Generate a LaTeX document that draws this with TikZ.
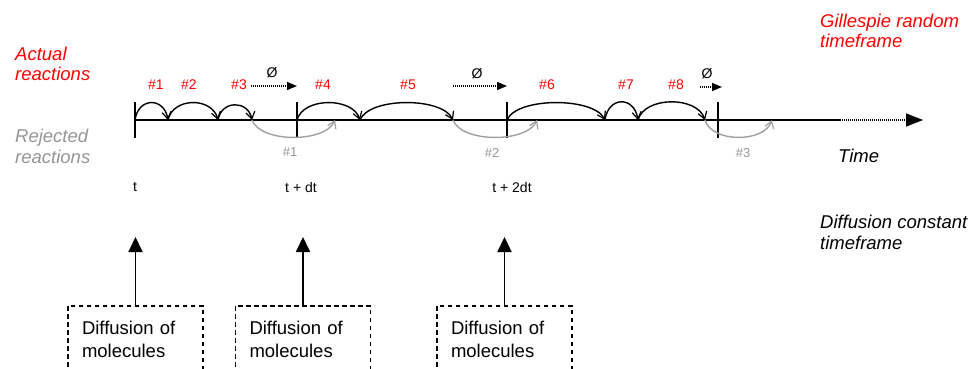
\documentclass[tikz,border=0pt]{standalone}
\usepackage{fontspec}
\setmainfont{Liberation Sans}
\usepackage{tikz}
\usetikzlibrary{arrows.meta,calc,positioning}
\definecolor{actred}{RGB}{255,0,0}
\definecolor{rejgray}{RGB}{150,150,150}
\definecolor{ink}{RGB}{0,0,0}

\tikzset{
  hop/.style={to path={.. controls ($(\tikztostart)!0.1!(\tikztotarget)+(0,#1)$) and ($(\tikztostart)!0.88!(\tikztotarget)+(0,#1)$) .. (\tikztotarget)}},
  hop/.default=-23,
  actarc/.style={line width=1.4pt,color=ink,-{Straight Barb[length=7pt,width=9pt,line width=1.2pt]}},
  rejarc/.style={line width=1.4pt,color=rejgray!90,-{Straight Barb[length=7pt,width=9pt,line width=1.2pt]}},
  sidelabel/.style={anchor=base west,align=left,inner sep=0pt,font=\fontsize{18.5}{20.5}\selectfont\itshape},
  reacnum/.style={color=actred,font=\fontsize{14}{17}\selectfont,inner sep=0pt},
  rejnum/.style={color=rejgray,font=\fontsize{13}{16}\selectfont,inner sep=0pt},
  nulltext/.style={color=ink,font=\fontsize{14}{17}\selectfont,inner sep=0pt},
  nullarrow/.style={line width=1.3pt,dash pattern=on 1pt off 1pt,color=ink,-{Triangle[length=10pt,width=8pt]}},
  steplabel/.style={font=\fontsize{14}{17}\selectfont,inner sep=0pt},
  diffbox/.style={draw,line width=1.5pt,dash pattern=on 4.5pt off 3.5pt,anchor=north,text width=107pt,align=left,inner xsep=14pt,inner ysep=15pt,text depth=62pt,font=\fontsize{18.5}{23}\selectfont},
  uparrow/.style={line width=1.8pt,-{Triangle[length=15pt,width=14pt]}},
}

\begin{document}
\begin{tikzpicture}[x=1pt,y=-1pt]
  \useasboundingbox (0,0) rectangle (972,369);
  \clip (0,0) rectangle (972,369);

  % side labels
  \node[sidelabel,color=actred] (actual) at (15,81) {Actual\\reactions};
  \node[sidelabel,color=rejgray] (rejected) at (15,163) {Rejected\\reactions};
  \node[sidelabel,color=actred] (gillespie) at (820,48) {Gillespie random\\timeframe};
  \node[sidelabel] (difconst) at (820,249) {Diffusion constant\\timeframe};
  \node[sidelabel] (time) at (838,162) {Time};

  % time axis
  \coordinate (t0) at (135,120);
  \coordinate (tsolid) at (840,120);
  \coordinate (tend) at (923,120);
  \draw[line width=1.7pt,color=ink] (t0) -- (tsolid);
  \draw[line width=1.5pt,dash pattern=on 1pt off 1pt,-{Triangle[length=17pt,width=13pt]}] (tsolid) -- (tend);
  \foreach \x in {135,297,507,718}
    \draw[line width=1.6pt] (\x,102) -- (\x,138);

  % reaction points on the axis
  \foreach \n/\x in {a0/135,a1/168,a2/218,a3/252,b0/297,a4/360,a5/453,c0/507,a6/605,a7/638,a8/705,g1/335,g2/537,g3/772}
    \coordinate (\n) at (\x,120);

  % actual reactions
  \draw[actarc] (a0) to[hop] (a1);
  \draw[actarc] (a1) to[hop] (a2);
  \draw[actarc] (a2) to[hop=-20] (a3);
  \draw[actarc] (b0) to[hop] (a4);
  \draw[actarc] (a4) to[hop] (a5);
  \draw[actarc] (c0) to[hop] (a6);
  \draw[actarc] (a6) to[hop=-24] (a7);
  \draw[actarc] (a7) to[hop=-24] (a8);
  \foreach \i/\x in {1/156,2/189,3/239,4/323,5/408,6/547,7/626,8/676}
    \node[reacnum] (num\i) at (\x,85) {\#\i};

  % rejected reactions
  \draw[rejarc] (a3) to[hop=23] (g1);
  \draw[rejarc] (a5) to[hop=23] (g2);
  \draw[rejarc] (a8) to[hop=23] (g3);
  \node[rejnum] (rej1) at (290,152) {\#1};
  \node[rejnum] (rej2) at (492,153) {\#2};
  \node[rejnum] (rej3) at (743,153) {\#3};

  % no reaction until the next step
  \coordinate (n1s) at (251,86);
  \coordinate (n1e) at (297,86);
  \coordinate (n2s) at (453,86);
  \coordinate (n2e) at (507,86);
  \coordinate (n3s) at (700,87);
  \coordinate (n3e) at (722,87);
  \draw[nullarrow] (n1s) -- (n1e);
  \draw[nullarrow] (n2s) -- (n2e);
  \draw[nullarrow] (n3s) -- (n3e);
  \node[nulltext] (z1) at (272,73) {Ø};
  \node[nulltext] (z2) at (477,74) {Ø};
  \node[nulltext] (z3) at (707,74) {Ø};

  % diffusion steps
  \node[steplabel] (s0) at (135,187) {t};
  \node[steplabel] (s1) at (301,187) {t + dt};
  \node[steplabel] (s2) at (512,187) {t + 2dt};

  \node[diffbox] (box1) at (135.5,305) {Diffusion of\\molecules};
  \node[diffbox] (box2) at (303,305) {Diffusion of\\molecules};
  \node[diffbox] (box3) at (504.5,305) {Diffusion of\\molecules};
  \coordinate (up1) at (135.5,237);
  \coordinate (up2) at (303,237);
  \coordinate (up3) at (504.5,237);
  \draw[uparrow] (box1.north) -- (up1);
  \draw[uparrow] (box2.north) -- (up2);
  \draw[uparrow] (box3.north) -- (up3);
\end{tikzpicture}
\end{document}
